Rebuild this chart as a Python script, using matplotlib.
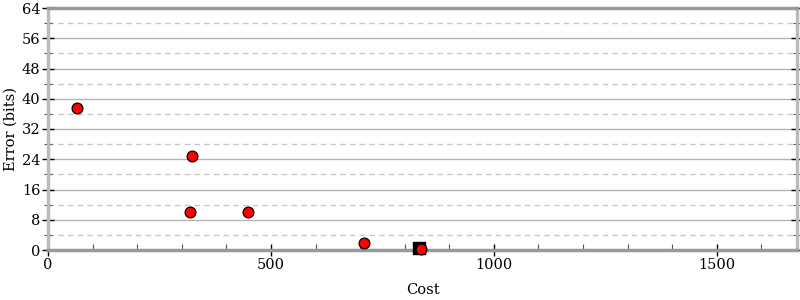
import matplotlib
matplotlib.use("Agg")
import matplotlib.pyplot as plt
import numpy as np

cost_red = [65, 323, 318, 448, 708, 836]
err_red = [37.5, 24.9, 10.0, 10.0, 1.8, 0.2]
cost_black = [832]
err_black = [0.5]

x_major = [0, 500, 1000, 1500]
y_major = [0, 8, 16, 24, 32, 40, 48, 56, 64]

plt.rcParams['font.family'] = ['DejaVu Serif']
fig = plt.figure(figsize=(8, 3), dpi=100)
ax = fig.add_axes([48/800, 50/300, 749/800, 242/300])

ax.set_xlim(0, 1680)
ax.set_ylim(0, 64)

for y in range(0, 65, 4):
    if y in (0, 64):
        continue
    if y % 8 == 0:
        ax.axhline(y, color='#b4b4b4', lw=1.0, zorder=0)
    else:
        ax.axhline(y, color='#c8c8c8', lw=1.0, ls=(0, (4, 3)), zorder=0)

ax.scatter(cost_black, err_black, marker='s', s=70, color='black', zorder=3, clip_on=False)
ax.scatter(cost_red, err_red, marker='o', s=60, color='#ff0000', edgecolors='black', linewidths=0.9, zorder=4, clip_on=False)

ax.set_xticks(x_major)
ax.set_xticks(np.arange(0, 1681, 100), minor=True)
ax.set_yticks(y_major)
ax.set_yticks(np.arange(4, 64, 8), minor=True)
ax.tick_params(axis='both', which='major', direction='inout', length=9, width=1, color='black', labelsize=10.5)
ax.tick_params(axis='x', which='minor', direction='in', length=4, width=0.8, color='#555555')
ax.tick_params(axis='y', which='minor', direction='inout', length=6, width=0.8, color='#555555')
ax.tick_params(axis='y', which='both', right=True)
ax.tick_params(axis='x', pad=1)
ax.tick_params(axis='y', pad=1)

ax.spines['left'].set_color('#bbbbbb')
ax.spines['left'].set_linewidth(2.5)
ax.spines['right'].set_color('#bbbbbb')
ax.spines['right'].set_linewidth(2.5)
ax.spines['bottom'].set_color('#999999')
ax.spines['bottom'].set_linewidth(2.5)
ax.spines['top'].set_color('#999999')
ax.spines['top'].set_linewidth(2.5)

ax.set_xlabel('Cost', fontsize=10.5, labelpad=8)
ax.set_ylabel('Error (bits)', fontsize=10.5, labelpad=3)

fig.savefig('out.png', dpi=100)
